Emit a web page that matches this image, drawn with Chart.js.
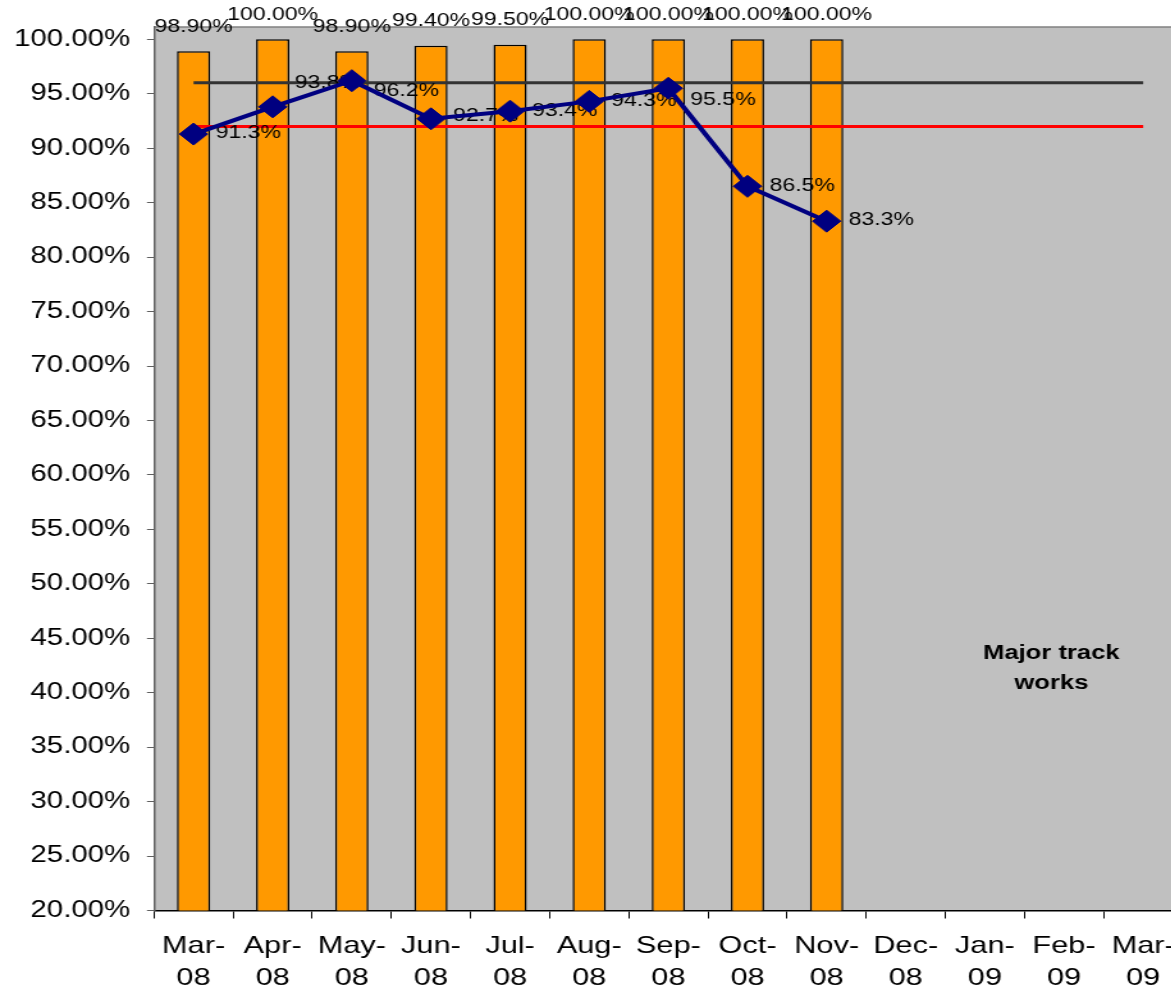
<!DOCTYPE html>
<html>
<head>
<meta charset="utf-8">
<script src="https://cdn.jsdelivr.net/npm/chart.js@4.4.1/dist/chart.umd.min.js"></script>
<style>
  html, body { margin: 0; padding: 0; background: #fff; overflow: hidden; }
  /* the original picture is stretched sideways, so the whole chart is */
  #wrap { width: 936px; height: 992px; transform: scaleX(1.28); transform-origin: 0 0; }
</style>
</head>
<body>
<div id="wrap"><canvas id="trackChart" width="936" height="992"></canvas></div>
<script>
const months = [
    ['Mar-', '08'], ['Apr-', '08'], ['May-', '08'], ['Jun-', '08'], ['Jul-', '08'],
    ['Aug-', '08'], ['Sep-', '08'], ['Oct-', '08'], ['Nov-', '08'], ['Dec-', '08'],
    ['Jan-', '09'], ['Feb-', '09'], ['Mar-', '09']
];
const barValues = [98.9, 100, 98.9, 99.4, 99.5, 100, 100, 100, 100, null, null, null, null];
const lineValues = [91.3, 93.8, 96.2, 92.7, 93.4, 94.3, 95.5, 86.5, 83.3, null, null, null, null];
const upperTarget = [96, 96, 96, 96, 96, 96, 96, 96, 96, 96, 96, 96, 96];
const lowerTarget = [92, 92, 92, 92, 92, 92, 92, 92, 92, 92, 92, 92, 92];
const yTicks = [20, 25, 30, 35, 40, 45, 50, 55, 60, 65, 70, 75, 80, 85, 90, 95, 100];
const note = ['Major track', 'works'];

const FONT = 'Arial, "Liberation Sans", sans-serif';

// grey plot area with a thin top border
const plotBackground = {
    id: 'plotBackground',
    beforeDraw(chart) {
        const a = chart.chartArea;
        const c = chart.ctx;
        c.save();
        c.fillStyle = '#C0C0C0';
        c.fillRect(a.left, a.top, a.right - a.left, a.bottom - a.top);
        c.strokeStyle = '#808080';
        c.lineWidth = 1.5;
        c.beginPath();
        c.moveTo(a.left, a.top);
        c.lineTo(a.right, a.top);
        c.stroke();
        c.restore();
    }
};

// a few of the line labels were dragged off their points in the original
const lineLabelNudge = [-0.5, -23, 11.5, -2, 1, 1, 12.5, 0.5, -0.5];

// value labels: bars above, line points to the right
const valueLabels = {
    id: 'valueLabels',
    beforeDatasetDraw(chart, args) {
        if (args.index !== 1) return;
        const c = chart.ctx;
        c.save();
        c.font = '18px ' + FONT;
        c.fillStyle = '#000';
        c.textAlign = 'left';
        c.textBaseline = 'middle';
        chart.getDatasetMeta(1).data.forEach(function (pt, i) {
            if (lineValues[i] === null) return;
            c.fillText(lineValues[i].toFixed(1) + '%', pt.x + 17.2, pt.y - 1 + (lineLabelNudge[i] || 0));
        });
        c.restore();
    },
    afterDatasetsDraw(chart) {
        const c = chart.ctx;
        c.save();
        c.font = '18px ' + FONT;
        c.fillStyle = '#000';
        c.textAlign = 'center';
        c.textBaseline = 'middle';
        chart.getDatasetMeta(0).data.forEach(function (bar, i) {
            if (barValues[i] === null) return;
            c.fillText(barValues[i].toFixed(2) + '%', bar.x, bar.y - 24.5);
        });

        const xs = chart.scales.x, ys = chart.scales.y;
        c.font = 'bold 20px ' + FONT;
        const nx = xs.getPixelForValue(10.84);
        c.fillText(note[0], nx, ys.getPixelForValue(43.6));
        c.fillText(note[1], nx, ys.getPixelForValue(40.85));
        c.restore();
    }
};

new Chart(document.getElementById('trackChart'), {
    type: 'bar',
    data: {
        labels: months,
        datasets: [{
            type: 'bar',
            data: barValues,
            backgroundColor: '#FF9900',
            borderColor: '#000000',
            borderWidth: 1.5,
            barPercentage: 0.42,
            categoryPercentage: 1,
            order: 3
        }, {
            type: 'line',
            data: lineValues,
            borderColor: '#000080',
            backgroundColor: '#000080',
            borderWidth: 4,
            pointStyle: 'rectRot',
            pointRadius: 11,
            pointBorderWidth: 1,
            spanGaps: false,
            order: 0
        }, {
            type: 'line',
            data: upperTarget,
            borderColor: '#333333',
            borderWidth: 3,
            pointRadius: 0,
            order: 1
        }, {
            type: 'line',
            data: lowerTarget,
            borderColor: '#FF0000',
            borderWidth: 3,
            pointRadius: 0,
            order: 2
        }]
    },
    options: {
        responsive: false,
        animation: false,
        layout: { padding: { top: 27, right: 6.3, left: 0, bottom: 0 } },
        plugins: {
            legend: { display: false },
            tooltip: { enabled: false }
        },
        scales: {
            x: {
                offset: true,
                grid: { drawOnChartArea: false, color: '#000', tickLength: 8, offset: true },
                border: { color: '#000', width: 1.5 },
                ticks: {
                    color: '#000',
                    font: { family: FONT, size: 24, lineHeight: 32 / 24 },
                    padding: 12,
                    maxRotation: 0,
                    autoSkip: false
                },
                afterFit(scale) {
                    scale.height = 81.5;
                    scale.paddingLeft = 0;
                    scale.paddingRight = 0;
                }
            },
            y: {
                min: 20,
                max: 101.13,
                grid: { drawOnChartArea: false, color: '#606060', tickLength: 5.5 },
                border: { color: '#606060', width: 1.5 },
                ticks: {
                    color: '#000',
                    font: { family: FONT, size: 23 },
                    padding: 13,
                    callback: function (v) { return v.toFixed(2) + '%'; }
                },
                afterBuildTicks(scale) {
                    scale.ticks = yTicks.map(function (v) { return { value: v }; });
                },
                afterFit(scale) { scale.width = 120.3; }
            }
        }
    },
    plugins: [plotBackground, valueLabels]
});
</script>
</body>
</html>
